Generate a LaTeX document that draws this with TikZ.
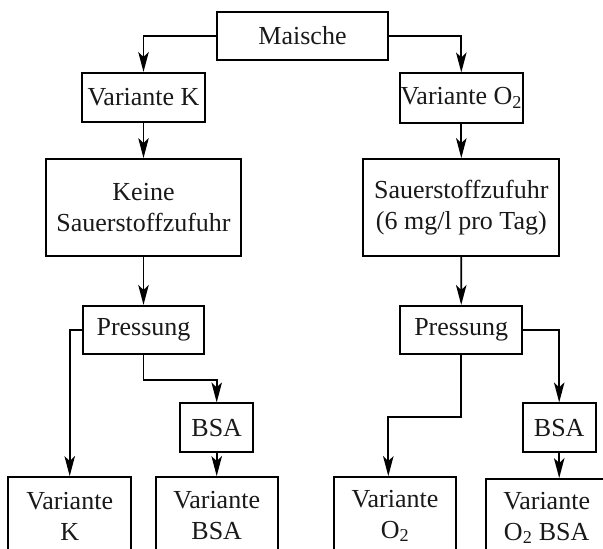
\documentclass[tikz,border=0pt]{standalone}
\usepackage{fontspec}
\setmainfont{Liberation Serif}
\usetikzlibrary{arrows.meta}
\tikzset{
  box/.style={draw, line width=1.8pt, inner sep=0pt, align=center,
    font=\fontsize{26}{31}\selectfont, text=black!90},
  conn/.style={line width=1.7pt, -{Stealth[length=20pt,width=10.5pt,inset=5pt]}},
}
\begin{document}
\begin{tikzpicture}[x=1pt,y=-1pt]
\useasboundingbox (0,0) rectangle (603,549);
\node[box, minimum width=171.6pt, minimum height=48.6pt] (mai) at (302.5,36) {Maische};
\node[box, minimum width=122.6pt, minimum height=49.3pt] (vk) at (143.5,97.5) {Variante K};
\node[box, minimum width=122.6pt, minimum height=49.3pt] (vo) at (461.3,98) {Variante O\textsubscript{2}};
\node[box, minimum width=195.6pt, minimum height=97pt] (ks) at (143.5,207.5) {Keine\\Sauerstoffzufuhr};
\node[box, minimum width=196pt, minimum height=97pt] (so) at (461.3,207.5) {Sauerstoffzufuhr\\(6 mg/l pro Tag)};
\node[box, minimum width=121.6pt, minimum height=48.3pt] (pl) at (143.5,330) {Pressung};
\node[box, minimum width=122.3pt, minimum height=48.3pt] (pr) at (461.2,330) {Pressung};
\node[box, minimum width=73.3pt, minimum height=49pt] (bl) at (216.7,427.8) {BSA};
\node[box, minimum width=73pt, minimum height=49pt] (br) at (559.2,427.8) {BSA};
\node[box, minimum width=122.7pt, minimum height=78pt] (vkk) at (69.7,516) {Variante\\K};
\node[box, minimum width=122pt, minimum height=78pt] (vbsa) at (216.7,516) {Variante\\BSA};
\node[box, minimum width=121.4pt, minimum height=78pt] (vo2) at (395,516) {Variante\\O\textsubscript{2}};
\node[box, minimum width=122pt, minimum height=78pt] (vo2b) at (546.7,518) {Variante\\O\textsubscript{2} BSA};

\draw[conn] (mai.west) -| (vk.north);
\draw[conn] (mai.east) -| (vo.north);
\draw[conn] (vk.south) -- (ks.north);
\draw[conn] (vo.south) -- (so.north);
\draw[conn] (ks.south) -- (pl.north);
\draw[conn] (so.south) -- (pr.north);
\draw[conn] (pl.west) -| (vkk.north);
\draw[conn] (pl.south) -- ++(0,24.7) -| (bl.north);
\draw[conn] (bl.south) -- (vbsa.north);
\draw[conn] (pr.east) -| (br.north);
\coordinate (vo2in) at ([xshift=-6.7pt]vo2.north);
\draw[conn] (pr.south) -- ++(0,62) -| (vo2in);
\draw[conn] (br.south) -- (br.south |- vo2b.north);
\end{tikzpicture}
\end{document}
